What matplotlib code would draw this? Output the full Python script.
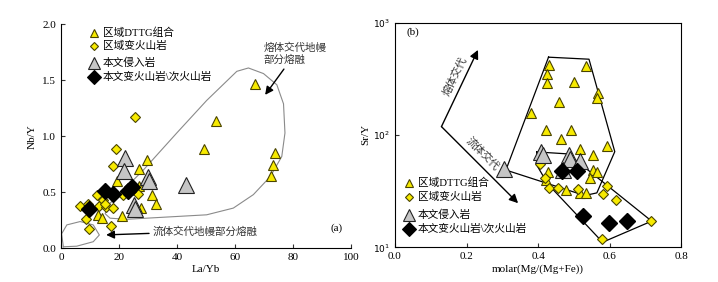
import numpy as np
import matplotlib.pyplot as plt
from matplotlib.ticker import FixedLocator, NullLocator

plt.rcParams['font.family'] = ['Liberation Serif', 'Noto Sans CJK SC']
plt.rcParams['axes.unicode_minus'] = False

# ---- data (a) La/Yb vs Nb/Y ----
a_dttg_x = [66.7, 53.4, 49.4, 73.9, 73.2, 72.4, 29.8, 27.0, 19.2, 31.3, 32.8, 27.5, 20.9, 12.9, 14.0, 27.0]
a_dttg_y = [1.47, 1.14, 0.89, 0.85, 0.74, 0.65, 0.79, 0.71, 0.60, 0.48, 0.40, 0.36, 0.29, 0.30, 0.27, 0.56]
a_vol_x = [25.5, 18.9, 18.0, 21.5, 26.7, 12.3, 6.6, 9.4, 13.2, 15.5, 18.0, 14.6, 8.6, 9.8, 17.2, 15.2]
a_vol_y = [1.175, 0.89, 0.735, 0.48, 0.49, 0.48, 0.38, 0.40, 0.38, 0.37, 0.36, 0.43, 0.26, 0.17, 0.20, 0.40]
a_intr_x = [22.0, 21.8, 30.0, 30.3, 43.0, 25.0, 25.5]
a_intr_y = [0.81, 0.69, 0.64, 0.60, 0.57, 0.39, 0.35]
a_this_x = [9.5, 15.0, 17.8, 23.2, 24.6]
a_this_y = [0.35, 0.515, 0.49, 0.51, 0.545]

# envelope outlines (a)
melt_x = [18.0, 28.4, 39.9, 50.2, 60.6, 64.6, 69.8, 74.4, 76.7, 77.2, 76.1, 72.1, 66.3, 59.4, 50.2, 36.4, 22.6, 16.9, 15.2, 16.3, 18.0]
melt_y = [0.43, 0.70, 1.03, 1.32, 1.58, 1.61, 1.56, 1.46, 1.29, 1.03, 0.82, 0.64, 0.48, 0.36, 0.30, 0.28, 0.26, 0.27, 0.31, 0.39, 0.43]
fluid_x = [0.8, 0.2, 2.0, 6.6, 11.1, 13.2, 11.1, 5.4, 0.8]
fluid_y = [0.015, 0.13, 0.21, 0.24, 0.21, 0.12, 0.06, 0.02, 0.015]

# ---- data (b) Mg# vs Sr/Y ----
b_dttg_x = [0.431, 0.425, 0.425, 0.533, 0.499, 0.567, 0.563, 0.458, 0.381, 0.421, 0.491, 0.463, 0.592, 0.518,
            0.553, 0.553, 0.565, 0.544, 0.428, 0.423, 0.477, 0.516, 0.535]
b_dttg_y = [420, 349, 289, 411, 295, 235, 212, 198, 156, 111, 111, 92, 79, 75,
            66, 48.8, 47, 41, 47, 40, 32.4, 30.3, 30.6]
b_vol_x = [0.406, 0.418, 0.431, 0.456, 0.511, 0.591, 0.581, 0.617, 0.579, 0.716]
b_vol_y = [55, 41, 33.5, 34, 33, 35, 30, 26.4, 11.9, 17.3]
b_intr_x = [0.304, 0.407, 0.414, 0.486, 0.488, 0.516, 0.470]
b_intr_y = [49.5, 71, 66, 66, 61, 58.6, 48.7]
b_this_x = [0.468, 0.509, 0.524, 0.598, 0.648]
b_this_y = [48, 48, 19, 16.4, 17.1]

hex_x = [0.429, 0.542, 0.614, 0.564, 0.530, 0.310, 0.429]
hex_y = [492, 472, 71, 30.5, 28.9, 48.7, 492]
low_x = [0.396, 0.483, 0.717, 0.580, 0.427, 0.396, 0.396]
low_y = [70.6, 67.8, 17.1, 11.1, 36.6, 54, 70.6]

legend_labels = ['区域DTTG组合', '区域变火山岩', '本文侵入岩', '本文变火山岩\\次火山岩']

yellow = '#f7ea00'
edge = '#4a4400'
gray = '#c6c6c6'
styles = [('^', 6, yellow, edge), ('D', 4.5, yellow, edge),
          ('^', 9, gray, '#222222'), ('D', 7.5, 'black', 'black')]

fig = plt.figure(figsize=(7.18, 2.82), dpi=100)

# ---------------- panel (a) ----------------
ax1 = fig.add_axes([0.085, 0.119, 0.404, 0.795])
ax1.plot(melt_x, melt_y, color='#8a8a8a', lw=0.8)
ax1.plot(fluid_x, fluid_y, color='#8a8a8a', lw=0.8)
ax1.plot(a_dttg_x, a_dttg_y, '^', ms=7.5, mfc=yellow, mec=edge, mew=0.8, ls='none')
ax1.plot(a_vol_x, a_vol_y, 'D', ms=5.5, mfc=yellow, mec=edge, mew=0.8, ls='none')
ax1.plot(a_intr_x, a_intr_y, '^', ms=11, mfc=gray, mec='#222222', mew=0.8, ls='none')
ax1.plot(a_this_x, a_this_y, 'D', ms=8.5, mfc='black', mec='black', ls='none')

# legend (a)
for yy, (mk, ms, fc, ec), lab in zip([1.92, 1.81, 1.655, 1.53], styles, legend_labels):
    ax1.plot([11.5], [yy], mk, ms=ms, mfc=fc, mec=ec, mew=0.8, clip_on=False)
    ax1.text(14.5, yy, lab, fontsize=7.7, va='center', ha='left')

ax1.annotate('', xy=(69.8, 1.35), xytext=(77.4, 1.62),
             arrowprops=dict(arrowstyle='-|>', color='black', lw=1.0, mutation_scale=12))
ax1.text(69.8, 1.74, '熔体交代地幔\n部分熔融', fontsize=7.6, ha='left', va='center', color='#333333', linespacing=1.15)
ax1.annotate('', xy=(14.6, 0.12), xytext=(31.3, 0.135),
             arrowprops=dict(arrowstyle='-|>', color='black', lw=1.0, mutation_scale=12))
ax1.text(31.7, 0.146, '流体交代地幔部分熔融', fontsize=7.6, ha='left', va='center', color='#333333')
ax1.text(97, 0.18, '(a)', fontsize=8, ha='right', va='center')

ax1.set_xlim(0, 100)
ax1.set_ylim(0, 2.0)
ax1.set_xticks([0, 20, 40, 60, 80, 100])
ax1.set_yticks([0.0, 0.5, 1.0, 1.5, 2.0])
ax1.set_yticklabels(['0.0', '0.5', '1.0', '1.5', '2.0'])
ax1.set_xlabel('La/Yb', fontsize=8, labelpad=2)
ax1.set_ylabel('Nb/Y', fontsize=8, labelpad=4)
ax1.spines['top'].set_visible(False)
ax1.spines['right'].set_visible(False)
ax1.tick_params(direction='in', labelsize=8, length=3, color='#333333')
for s in ax1.spines.values():
    s.set_linewidth(0.8)

# ---------------- panel (b) ----------------
ax2 = fig.add_axes([0.550, 0.123, 0.399, 0.797])
ax2.set_yscale('log')
ax2.plot(hex_x, hex_y, color='black', lw=0.9)
ax2.plot(low_x, low_y, color='black', lw=0.9)
ax2.plot(b_dttg_x, b_dttg_y, '^', ms=7.5, mfc=yellow, mec=edge, mew=0.8, ls='none')
ax2.plot(b_vol_x, b_vol_y, 'D', ms=5.5, mfc=yellow, mec=edge, mew=0.8, ls='none')
ax2.plot(b_intr_x, b_intr_y, '^', ms=11, mfc=gray, mec='#222222', mew=0.8, ls='none')
ax2.plot(b_this_x, b_this_y, 'D', ms=8.5, mfc='black', mec='black', ls='none')

# trend arrows
ax2.annotate('', xy=(0.232, 571), xytext=(0.130, 118.6),
             arrowprops=dict(arrowstyle='-|>', color='black', lw=1.0, mutation_scale=13, shrinkA=0, shrinkB=0))
ax2.annotate('', xy=(0.344, 24.7), xytext=(0.130, 118.6),
             arrowprops=dict(arrowstyle='-|>', color='black', lw=1.0, mutation_scale=13, shrinkA=0, shrinkB=0))
ax2.text(0.167, 330, '熔体交代', fontsize=7.6, rotation=64, ha='center', va='center', color='#333333')
ax2.text(0.246, 68.7, '流体交代', fontsize=7.6, rotation=-45, ha='center', va='center', color='#333333')
ax2.text(0.032, 820, '(b)', fontsize=8, ha='left', va='center')

for yy, (mk, ms, fc, ec), lab in zip([37.2, 28.3, 19.4, 14.5], styles, legend_labels):
    ax2.plot([0.040], [yy], mk, ms=ms, mfc=fc, mec=ec, mew=0.8)
    ax2.text(0.064, yy, lab, fontsize=7.7, va='center', ha='left')

ax2.set_xlim(0, 0.8)
ax2.set_ylim(10, 1000)
ax2.set_xticks([0.0, 0.2, 0.4, 0.6, 0.8])
ax2.set_xticklabels(['0.0', '0.2', '0.4', '0.6', '0.8'])
ax2.yaxis.set_major_locator(FixedLocator([10, 100, 1000]))
ax2.yaxis.set_minor_locator(NullLocator())
ax2.set_yticklabels(['$10^1$', '$10^2$', '$10^3$'])
ax2.set_xlabel('molar(Mg/(Mg+Fe))', fontsize=8, labelpad=2)
ax2.set_ylabel('Sr/Y', fontsize=8, labelpad=2)
ax2.tick_params(direction='in', labelsize=8, length=3, color='#333333')
ax2.tick_params(axis='y', labelsize=6.5)
for s in ax2.spines.values():
    s.set_linewidth(0.8)

fig.savefig('out.png', dpi=100)
